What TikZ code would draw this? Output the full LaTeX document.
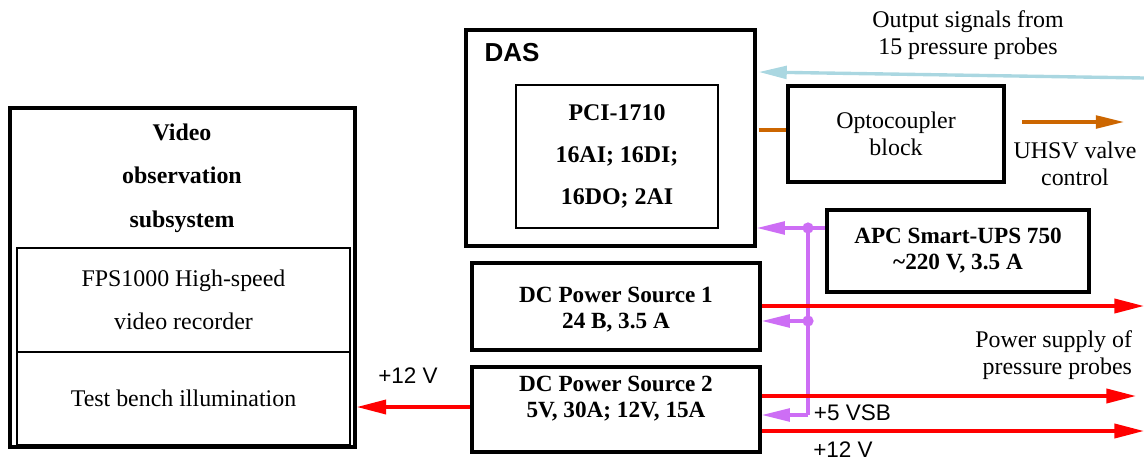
\documentclass[tikz,border=0pt]{standalone}
\usepackage{fontspec}
\setmainfont{Liberation Serif}
\setsansfont{Liberation Sans}
\usepackage{tikz}
\usetikzlibrary{arrows.meta,calc,positioning}
\definecolor{sigblue}{RGB}{170,215,225}
\definecolor{ctlorange}{RGB}{204,102,0}
\definecolor{stbviolet}{RGB}{205,110,245}
\definecolor{pwrred}{RGB}{255,0,0}

\begin{document}
\begin{tikzpicture}[x=0.025cm,y=-0.025cm,>={Triangle[length=20pt,width=9pt]},
      blk/.style={draw,line width=2.3pt,inner sep=0pt},
      sub/.style={draw,line width=1.2pt,inner sep=0pt},
      txt/.style={align=center,font=\fontsize{17}{19}\selectfont},
      btxt/.style={align=center,font=\fontsize{16.5}{18.5}\selectfont\bfseries},
      wide/.style={align=center,font=\fontsize{17}{31}\selectfont},
      lbl/.style={font=\sffamily\fontsize{16}{18}\selectfont},
      pwr/.style={pwrred,line width=2.5pt,->,>={Triangle[length=21pt,width=10pt]}},
      stb/.style={stbviolet,line width=2.4pt},
      sig/.style={sigblue,line width=2.4pt},
      ctl/.style={ctlorange,line width=2.4pt}]
      \useasboundingbox (0,0) rectangle (1144,461);
      % video observation subsystem
      \node[blk,minimum width=8.625cm,minimum height=8.475cm] (video) at (182.5,277.5) {};
      \node[wide,font=\fontsize{17}{31}\selectfont\bfseries] (vtitle) at (182,178) {Video\\observation\\subsystem};
      \node[sub,minimum width=8.325cm,minimum height=2.6cm,wide] (rec) at (183.5,300) {FPS1000 High-speed\\video recorder};
      \node[sub,minimum width=8.325cm,minimum height=2.325cm,txt] (illum) at (183.5,398.5) {Test bench illumination};
      % data acquisition
      \node[blk,minimum width=7.225cm,minimum height=5.4cm] (das) at (610.5,138) {};
      \node[font=\sffamily\bfseries\fontsize{18.5}{20}\selectfont] (daslbl) at (512,53) {DAS};
      \node[sub,minimum width=5.05cm,minimum height=3.575cm,wide,font=\fontsize{17}{30}\selectfont\bfseries] (pci) at (617,156.5) {PCI-1710\\16AI; 16DI;\\16DO; 2AI};
      \node[blk,minimum width=5.4cm,minimum height=2.4cm,txt] (opto) at (896,134) {Optocoupler\\block};
      % power
      \node[blk,minimum width=6.55cm,minimum height=2.05cm,btxt] (ups) at (958,251) {APC Smart-UPS 750\\\textasciitilde220 V, 3.5 A};
      \node[blk,minimum width=7.2cm,minimum height=2.175cm] (dc1) at (616,306.5) {};
      \node[btxt] (dc1txt) at (616,310) {DC Power Source 1\\24 B, 3.5 A};
      \node[blk,minimum width=7.2cm,minimum height=2.125cm] (dc2) at (616,409.5) {};
      \node[btxt] (dc2txt) at (616,399) {DC Power Source 2\\5V, 30A; 12V, 15A};
      % signals
      \coordinate (probes) at (1144,78);
      \draw[sig,->] (probes) -- ($(das.east)+(2,-66)$);
      \node[txt] (probelbl) at (968,35) {Output signals from\\15 pressure probes};
      \draw[ctl] ($(das.east)+(2,-8)$) -- ($(opto.west)+(0,-4)$);
      \coordinate (valvea) at (1022,122);
      \coordinate (valveb) at (1124,122);
      \draw[ctl,->] (valvea) -- (valveb);
      \node[txt] (valvelbl) at (1075,164) {UHSV valve\\control};
      % standby bus
      \coordinate (j1) at (808,228);
      \coordinate (j2) at (808,321);
      \coordinate (j3) at (808,415);
      \draw[stb] (j1 -| ups.west) -- (j1) -- (j3);
      \draw[stb,->] (j1) -- (j1 -| das.east);
      \draw[stb,->] (j2) -- (j2 -| dc1.east);
      \draw[stb,->] (j3) -- (j3 -| dc2.east);
      \fill[stbviolet] (j1) circle (4pt) (j2) circle (4pt);
      \node[lbl,anchor=west] (vsb) at (809,413) {+5 VSB};
      % power outputs
      \coordinate (p1) at (1144,306);
      \coordinate (p2) at (1136,396);
      \coordinate (p3) at (1144,431);
      \draw[pwr] (dc1.east |- p1) -- (p1);
      \draw[pwr] (dc2.east |- p2) -- (p2);
      \draw[pwr] (dc2.east |- p3) -- (p3);
      \node[txt,align=right,anchor=east] (probepwr) at (1137,355) {Power supply of\\pressure probes};
      \node[lbl] (v12b) at (843,450) {+12 V};
      \draw[pwr] ($(dc2.west)+(0,-2.5)$) -- (video.east |- 0,407);
      \node[lbl] (v12a) at (408,376) {+12 V};
    \end{tikzpicture}
\end{document}
